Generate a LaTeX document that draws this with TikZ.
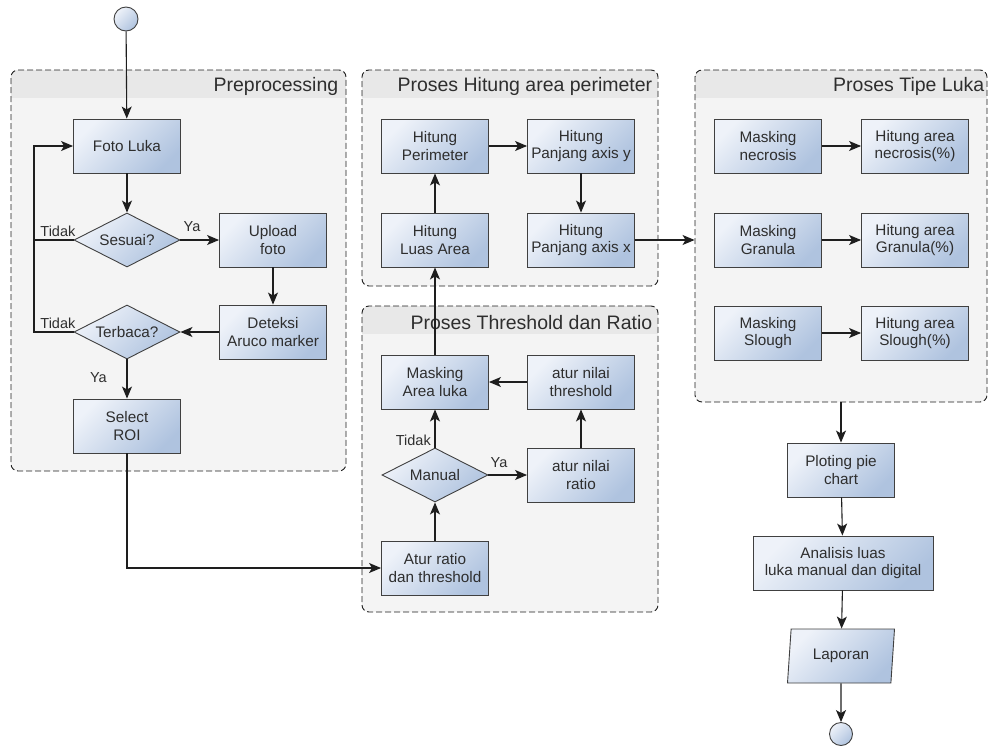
\documentclass[tikz,border=0pt]{standalone}
\usepackage{fontspec}
\setmainfont{Liberation Sans}
\usetikzlibrary{positioning, arrows.meta, shapes.geometric}

\definecolor{boxLight}{HTML}{EEF2F9}
\definecolor{boxDark}{HTML}{AFC3DF}
\definecolor{lineCol}{HTML}{1E1E1E}
\definecolor{textCol}{HTML}{2E2E2E}
\definecolor{groupFill}{HTML}{F4F4F4}
\definecolor{groupHead}{HTML}{E8E8E8}

\begin{document}
\begin{tikzpicture}[
		x=1pt, y=-1pt,
		font=\fontsize{15.3}{17.5}\selectfont,
		% Box styles for the flow steps
		box/.style={draw=lineCol!85, line width=0.9pt, top color=boxLight, bottom color=boxDark, shading angle=45, text=textCol, align=center, inner sep=1pt, minimum width=107pt, minimum height=54pt},
		decision/.style={box, diamond, aspect=2, inner sep=0pt, minimum width=106pt, minimum height=54pt},
		ioBox/.style={box, trapezium, trapezium left angle=77, trapezium right angle=103, trapezium stretches body},
		terminal/.style={draw=lineCol!85, line width=0.9pt, circle, minimum size=24pt, inner sep=0pt, top color=boxLight, bottom color=boxDark, shading angle=45},
		% Group (swimlane) styles
		group/.style={draw=lineCol, line width=0.9pt, dash pattern=on 6pt off 3pt, rounded corners=7pt, fill=groupFill,
			path picture={\fill[groupHead, sharp corners] (path picture bounding box.north west) rectangle ([yshift=-28pt]path picture bounding box.north east);}},
		groupTitle/.style={font=\fontsize{19.5}{22}\selectfont, text=textCol, anchor=east, inner sep=0pt},
		% Arrow styles
		flowArrow/.style={-{Stealth[length=12pt, width=10pt, inset=3pt]}, line width=1.1pt, color=lineCol},
		flowLine/.style={line width=1.1pt, color=lineCol},
		lbl/.style={font=\fontsize{14.5}{16}\selectfont, text=textCol, inner sep=0pt}
		]
		\useasboundingbox (0,0) rectangle (988,747);
		
		% =========================================================
		% GROUPS
		% =========================================================
		\node[group, minimum width=335pt, minimum height=401pt] (Preproc) at (178.5,270.5) {};
		\node[groupTitle] (PreprocTitle) at ([xshift=-8pt, yshift=-17pt]Preproc.north east) {Preprocessing};
		
		\node[group, minimum width=296pt, minimum height=216pt] (HitungArea) at (510,178) {};
		\node[groupTitle] (HitungTitle) at ([xshift=-6pt, yshift=-17pt]HitungArea.north east) {Proses Hitung area perimeter};
		
		\node[group, minimum width=296pt, minimum height=306pt] (Threshold) at (510,459) {};
		\node[groupTitle] (ThresholdTitle) at ([xshift=-6pt, yshift=-17pt]Threshold.north east) {Proses Threshold dan Ratio};
		
		\node[group, minimum width=292pt, minimum height=332pt] (TipeLuka) at (841,236) {};
		\node[groupTitle] (TipeTitle) at ([xshift=-3pt, yshift=-17pt]TipeLuka.north east) {Proses Tipe Luka};
		
		% =========================================================
		% PREPROCESSING
		% =========================================================
		\node[terminal] (Start) at (126,19) {};
		\node[box] (FotoLuka) at (127,146) {Foto Luka};
		\node[decision] (Sesuai) at (127,240) {Sesuai?};
		\node[box] (Upload) at (273,240) {Upload\\foto};
		\node[box] (Deteksi) at (273,332) {Deteksi\\Aruco marker};
		\node[decision] (Terbaca) at (127,332) {Terbaca?};
		\node[box] (SelROI) at (127,426) {Select\\ROI};
		\coordinate (LoopCorner) at (34,240);
		
		\draw[flowArrow] (Start) -- (FotoLuka);
		\draw[flowArrow] (FotoLuka) -- (Sesuai);
		\draw[flowArrow] (Sesuai) -- (Upload);
		\draw[flowArrow] (Upload) -- (Deteksi);
		\draw[flowArrow] (Deteksi) -- (Terbaca);
		\draw[flowArrow] (Terbaca) -- (SelROI);
		\draw[flowArrow] (Sesuai.west) -- (LoopCorner) |- (FotoLuka.west);
		\draw[flowLine] (Terbaca.west) -| (LoopCorner);
		
		\node[lbl, anchor=south east] (TidakSesuai) at ([xshift=2pt, yshift=3pt]Sesuai.west) {Tidak};
		\node[lbl, anchor=south west] (YaSesuai) at ([xshift=3pt, yshift=8pt]Sesuai.east) {Ya};
		\node[lbl, anchor=south east] (TidakTerbaca) at ([xshift=2pt, yshift=3pt]Terbaca.west) {Tidak};
		\node[lbl, anchor=north east] (YaTerbaca) at ([xshift=-20pt, yshift=-13pt]Terbaca.south) {Ya};
		
		% =========================================================
		% PROSES THRESHOLD DAN RATIO
		% =========================================================
		\node[box] (MaskArea) at (435,382) {Masking\\Area luka};
		\node[box] (NilaiThres) at (581,382) {atur nilai\\threshold};
		\node[decision] (Manual) at (435,475) {Manual};
		\node[box] (NilaiRatio) at (581,475) {atur nilai\\ratio};
		\node[box] (AturRatio) at (435,568) {Atur ratio\\dan threshold};
		
		\draw[flowArrow] (SelROI) |- (AturRatio);
		\draw[flowArrow] (AturRatio) -- (Manual);
		\draw[flowArrow] (Manual) -- (MaskArea);
		\draw[flowArrow] (Manual) -- (NilaiRatio);
		\draw[flowArrow] (NilaiRatio) -- (NilaiThres);
		\draw[flowArrow] (NilaiThres) -- (MaskArea);
		
		\node[lbl, anchor=south east] (TidakManual) at ([xshift=-4pt, yshift=2pt]Manual.north) {Tidak};
		\node[lbl, anchor=south west] (YaManual) at ([xshift=2pt, yshift=7pt]Manual.east) {Ya};
		
		% =========================================================
		% PROSES HITUNG AREA PERIMETER
		% =========================================================
		\node[box] (Perimeter) at (435,146) {Hitung\\Perimeter};
		\node[box] (AxisY) at (581,146) {Hitung\\Panjang axis y};
		\node[box] (LuasArea) at (435,240) {Hitung\\Luas Area};
		\node[box] (AxisX) at (581,240) {Hitung\\Panjang axis x};
		
		\draw[flowArrow] (MaskArea) -- (LuasArea);
		\draw[flowArrow] (LuasArea) -- (Perimeter);
		\draw[flowArrow] (Perimeter) -- (AxisY);
		\draw[flowArrow] (AxisY) -- (AxisX);
		\draw[flowArrow] (AxisX.east) -- (AxisX.east -| TipeLuka.west);
		
		% =========================================================
		% PROSES TIPE LUKA
		% =========================================================
		\node[box] (MaskNecrosis) at (768,146) {Masking\\necrosis};
		\node[box] (AreaNecrosis) at (915,146) {Hitung area\\necrosis(\%)};
		\node[box] (MaskGranula) at (768,240) {Masking\\Granula};
		\node[box] (AreaGranula) at (915,240) {Hitung area\\Granula(\%)};
		\node[box] (MaskSlough) at (768,333) {Masking\\Slough};
		\node[box] (AreaSlough) at (915,333) {Hitung area\\Slough(\%)};
		
		\draw[flowArrow] (MaskNecrosis) -- (AreaNecrosis);
		\draw[flowArrow] (MaskGranula) -- (AreaGranula);
		\draw[flowArrow] (MaskSlough) -- (AreaSlough);
		
		% =========================================================
		% OUTPUT
		% =========================================================
		\node[box] (Ploting) at (841,470) {Ploting pie\\chart};
		\node[box, minimum width=180pt] (Analisis) at (843,563) {Analisis luas\\luka manual dan digital};
		\node[ioBox] (Laporan) at (841,656) {Laporan};
		\node[terminal, minimum size=23pt] (End) at (841,734) {};
		
		\draw[flowArrow] (TipeLuka.south) -- (Ploting);
		\draw[flowArrow] (Ploting) -- (Analisis);
		\draw[flowArrow] (Analisis) -- (Laporan);
		\draw[flowArrow] (Laporan) -- (End);
		
	\end{tikzpicture}
\end{document}
